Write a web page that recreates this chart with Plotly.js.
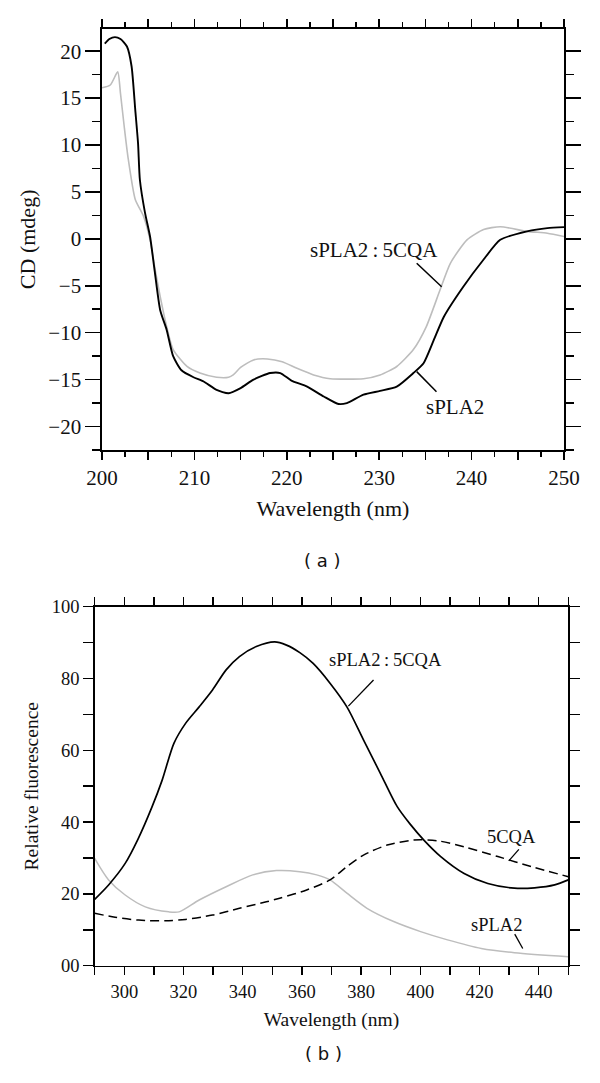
<!DOCTYPE html>
<html>
<head>
<meta charset="utf-8">
<script src="https://cdn.plot.ly/plotly-3.0.1.min.js"></script>
<style>html,body{margin:0;padding:0;background:#fff;}#chart{width:600px;height:1083px;}</style>
</head>
<body>
<div id="chart"></div>
<script>
// ---------- Panel (a): CD spectra ----------
const cdWavelengthSPLA2 = [200.3,200.8,201.4,202.0,202.7,203.2,203.6,203.9,204.1,204.65,205.2,205.7,206.3,207.0,207.7,208.6,209.9,211.0,212.4,213.7,215.0,216.4,218.2,219.3,220.5,222.2,224.0,225.6,226.5,228.3,230.1,231.9,233.7,234.8,235.9,237.0,239.1,241.3,243.1,246.0,248.2,250.0];
const cdSPLA2 = [20.8,21.3,21.5,21.3,20.5,18.4,13.75,10.2,6.3,2.8,0.25,-3.4,-7.6,-9.7,-12.5,-14.0,-14.75,-15.2,-16.1,-16.45,-15.9,-15.0,-14.3,-14.3,-15.1,-15.75,-16.8,-17.6,-17.5,-16.6,-16.2,-15.75,-14.3,-13.25,-10.8,-8.3,-5.1,-2.2,-0.1,0.8,1.15,1.25];

const cdWavelengthComplex = [200.0,200.9,201.7,202.0,202.4,202.8,203.6,204.5,205.2,205.7,206.3,207.0,207.7,209.2,210.6,212.4,213.7,214.2,215.0,216.4,217.9,219.5,221.1,222.9,224.7,228.3,230.1,231.9,233.7,235.1,236.6,237.7,239.5,241.3,243.1,246.0,248.2,250.0];
const cdComplex = [16.1,16.4,17.8,15.5,12.0,8.8,4.2,2.4,-0.1,-3.0,-6.15,-9.35,-11.8,-13.6,-14.3,-14.75,-14.75,-14.5,-13.7,-12.9,-12.8,-13.1,-13.8,-14.5,-14.9,-14.9,-14.5,-13.6,-11.8,-9.35,-5.4,-2.6,-0.1,1.0,1.3,0.8,0.6,0.25];

const cdXTicks = [200,205,210,215,220,225,230,235,240,245,250];
const cdXTickText = ['200','','210','','220','','230','','240','','250'];
const cdYTicks = [-20,-15,-10,-5,0,5,10,15,20];

// ---------- Panel (b): fluorescence spectra ----------
const flWavelengthComplex = [290,294.7,300.3,304.6,309.4,312.8,316.8,320.7,325.3,329.8,334.4,338.9,344.6,350.8,354.8,359.3,363.8,369.5,375.2,380.8,386.5,392.2,396.5,401.2,406.9,414.8,422.8,431.8,438.6,445.4,450];
const flComplex = [18.5,22.5,28.5,35.2,44.3,51.7,62,67.5,72.1,76.8,82.4,86.1,88.9,90.2,89.3,87.2,84.2,78.7,72.1,62.9,53.6,44.3,39.5,35.0,30.4,25.7,22.9,21.6,21.7,22.5,23.9];

const flWavelength5CQA = [290,296.9,304.9,313.9,320.7,329.8,338.9,348,352.5,361.6,369.5,375.2,380.8,388.8,397.8,405.8,414.8,426.2,437.5,450];
const fl5CQA = [14.6,13.5,12.7,12.5,12.9,14.1,16.0,17.8,18.8,21.1,23.9,27.6,30.8,33.6,35.0,34.8,33.1,30.4,27.6,24.8];

const flWavelengthSPLA2 = [290,294.7,300.3,307.1,315,318.5,325.3,334.4,343.4,351.4,359.3,365.0,369.5,375.2,382.0,391.0,400.1,409.2,420.6,431.8,450];
const flSPLA2 = [29.9,23.9,19.7,16.4,15.0,15.0,18.3,22.0,25.3,26.5,26.2,25.3,23.9,20.2,16.0,12.3,9.5,7.2,4.8,3.6,2.5];

const flXTicks = [290,300,310,320,330,340,350,360,370,380,390,400,410,420,430,440,450];
const flXTickText = ['','300','','320','','340','','360','','380','','400','','420','','440',''];
const flYTicks = [0,20,40,60,80,100];
const flYTickText = ['00','20','40','60','80','100'];

// ---------- labels ----------
const labelComplex = 'sPLA2\u2009:\u20095CQA';
const labelSPLA2 = 'sPLA2';
const label5CQA = '5CQA';

const SERIF = 'Liberation Serif';

const traces = [
  {x: cdWavelengthComplex, y: cdComplex, xaxis:'x', yaxis:'y', mode:'lines',
   line:{color:'#bdbdbd', width:1.6, shape:'spline', smoothing:0.6}},
  {x: cdWavelengthSPLA2, y: cdSPLA2, xaxis:'x', yaxis:'y', mode:'lines',
   line:{color:'#000', width:1.9, shape:'spline', smoothing:0.6}},
  {x: flWavelengthSPLA2, y: flSPLA2, xaxis:'x2', yaxis:'y2', mode:'lines',
   line:{color:'#bdbdbd', width:1.5, shape:'spline', smoothing:0.8}},
  {x: flWavelength5CQA, y: fl5CQA, xaxis:'x2', yaxis:'y2', mode:'lines',
   line:{color:'#000', width:1.5, dash:'9px,5px', shape:'spline', smoothing:0.8}},
  {x: flWavelengthComplex, y: flComplex, xaxis:'x2', yaxis:'y2', mode:'lines',
   line:{color:'#000', width:1.7, shape:'spline', smoothing:0.8}}
];

function axisBase(fontSize) {
  return {
    showgrid:false, zeroline:false, showline:true, linecolor:'#000', linewidth:1.6,
    mirror:'ticks', ticks:'outside', tickcolor:'#000', tickwidth:1.5,
    tickfont:{family:SERIF, size:fontSize, color:'#111'}
  };
}

const layout = {
  width:600, height:1083,
  margin:{l:0, r:0, t:0, b:0},
  paper_bgcolor:'#fff', plot_bgcolor:'#fff',
  font:{family:SERIF, size:21, color:'#111'},
  showlegend:false,
  xaxis: Object.assign(axisBase(21), {
    domain:[0.170, 0.940], anchor:'y', range:[200,250],
    tickmode:'array', tickvals:cdXTicks, ticktext:cdXTickText, ticklen:8,
    minor:{dtick:2.5, tick0:200, ticks:'outside', ticklen:5, tickcolor:'#000', tickwidth:1.5},
    title:{text:'Wavelength (nm)', font:{family:SERIF, size:22, color:'#111'}, standoff:12}
  }),
  yaxis: Object.assign(axisBase(21), {
    domain:[0.5845, 0.9735], anchor:'x', range:[-22.5,22.4],
    tickmode:'array', tickvals:cdYTicks, ticklen:15,
    minor:{dtick:2.5, tick0:0, ticks:'outside', ticklen:8, tickcolor:'#000', tickwidth:1.5},
    title:{text:'CD (mdeg)', font:{family:SERIF, size:22, color:'#111'}, standoff:6}
  }),
  xaxis2: Object.assign(axisBase(18.5), {
    domain:[0.1578, 0.9472], anchor:'y2', range:[290,450],
    tickmode:'array', tickvals:flXTicks, ticktext:flXTickText, ticklen:8,
    title:{text:'Wavelength (nm)', font:{family:SERIF, size:19.5, color:'#111'}, standoff:12}
  }),
  yaxis2: Object.assign(axisBase(18.5), {
    domain:[0.1083, 0.4398], anchor:'x2', range:[0,100],
    tickmode:'array', tickvals:flYTicks, ticktext:flYTickText, ticklen:10,
    minor:{dtick:10, tick0:0, ticks:'outside', ticklen:10, tickcolor:'#000', tickwidth:1.5},
    title:{text:'Relative fluorescence', font:{family:SERIF, size:19.5, color:'#111'}, standoff:8}
  }),
  annotations: [
    {xref:'x', yref:'y', x:229.4, y:-1.2, text:labelComplex, showarrow:false, font:{family:SERIF, size:21, color:'#111'}},
    {xref:'x', yref:'y', x:238.2, y:-17.9, text:labelSPLA2, showarrow:false, font:{family:SERIF, size:21, color:'#111'}},
    {xref:'x2', yref:'y2', x:388.4, y:85.2, text:labelComplex, showarrow:false, font:{family:SERIF, size:18.5, color:'#111'}},
    {xref:'x2', yref:'y2', x:430.9, y:35.9, text:label5CQA, showarrow:false, font:{family:SERIF, size:18.5, color:'#111'}},
    {xref:'x2', yref:'y2', x:425.8, y:11.3, text:labelSPLA2, showarrow:false, font:{family:SERIF, size:18.5, color:'#111'}},
    {xref:'paper', yref:'paper', x:322/600, y:1-560/1083, text:'( a )', showarrow:false, font:{family:'DejaVu Sans', size:18, color:'#111'}},
    {xref:'paper', yref:'paper', x:323/600, y:1-1066/1083, text:'( b )', showarrow:false, font:{family:'DejaVu Sans', size:18, color:'#111'}}
  ],
  shapes: [
    {type:'line', xref:'x', yref:'y', x0:234.06, y0:-2.6, x1:236.76, y1:-5.1, line:{color:'#000', width:1.5}},
    {type:'line', xref:'x', yref:'y', x0:234.06, y0:-14.15, x1:236.2, y1:-16.3, line:{color:'#000', width:1.5}},
    {type:'line', xref:'x2', yref:'y2', x0:384.2, y0:79.6, x1:375.7, y1:72.3, line:{color:'#000', width:1.3}},
    {type:'line', xref:'x2', yref:'y2', x0:433.3, y0:32.4, x1:429.9, y1:29.2, line:{color:'#000', width:1.3}},
    {type:'line', xref:'x2', yref:'y2', x0:431.9, y0:8.8, x1:434.6, y1:4.8, line:{color:'#000', width:1.3}}
  ]
};

Plotly.newPlot('chart', traces, layout, {staticPlot:true, displayModeBar:false});
</script>
</body>
</html>
